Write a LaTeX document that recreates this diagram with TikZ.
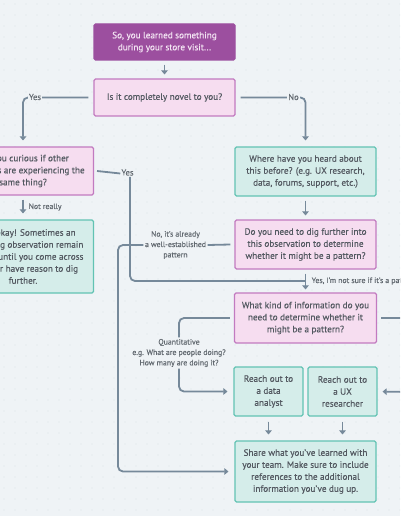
\documentclass[tikz,border=0pt]{standalone}
\usepackage{fontspec}
\setmainfont{PT Sans}[FakeBold=0.3,AutoFakeBold=0.3]
\usetikzlibrary{arrows.meta}
\definecolor{bg}{HTML}{EFF3F6}
\definecolor{dotc}{HTML}{DCE3E9}
\definecolor{purp}{HTML}{9C4F9F}
\definecolor{purptext}{HTML}{F4E6F4}
\definecolor{pinkfill}{HTML}{F6DDF0}
\definecolor{pinkdraw}{HTML}{C27AC0}
\definecolor{tealfill}{HTML}{D5EDEA}
\definecolor{tealdraw}{HTML}{62C3B3}
\definecolor{txt}{HTML}{535961}
\definecolor{lbl}{HTML}{626970}
\definecolor{conn}{HTML}{76899A}
\tikzset{
  boxbase/.style={rounded corners=1.5pt, line width=1.1pt, align=center, inner sep=0pt,
    font=\fontsize{9.2}{12}\selectfont, text=txt},
  startbox/.style={boxbase, fill=purp, draw=purp, text=purptext},
  qbox/.style={boxbase, fill=pinkfill, draw=pinkdraw},
  abox/.style={boxbase, fill=tealfill, draw=tealdraw},
  lab/.style={font=\fontsize{7.8}{10.4}\selectfont, text=lbl, align=center, inner sep=1.5pt, fill=bg},
  toplab/.style={font=\fontsize{8.6}{10}\selectfont, text=lbl, inner sep=1pt, fill=bg},
  conline/.style={draw=conn, line width=1.8pt, rounded corners=5pt},
  conarr/.style={conline, -{Triangle[length=4pt,width=6.5pt]}},
}
\begin{document}
\begin{tikzpicture}[x=1pt,y=-1pt]
\useasboundingbox (0,0) rectangle (400,516);
\clip (0,0) rectangle (400,516);
\fill[bg] (0,0) rectangle (400,516);
\foreach \i in {0,...,36} {\foreach \j in {0,...,47} {\fill[dotc] (4+\i*11,4+\j*11) circle (0.55pt);}}

% nodes
\node[startbox, minimum width=141pt, minimum height=36pt] (start) at (164.5,42) {So, you learned something\\during your store visit...};
\node[qbox, minimum width=141pt, minimum height=37pt] (novel) at (164.5,97.5) {Is it completely novel to you?};
\node[qbox, minimum width=141pt, minimum height=48pt] (curious) at (23,171) {Are you curious if other\\customers are experiencing the\\same thing?};
\node[abox, minimum width=141pt, minimum height=73pt] (okay) at (23,256.5) {That's okay! Sometimes an\\interesting observation remain\\dormant until you come across\\others or have reason to dig\\further.};
\node[abox, minimum width=141pt, minimum height=49pt] (where) at (305.5,171.5) {Where have you heard about\\this before? (e.g. UX research,\\data, forums, support, etc.)};
\node[qbox, minimum width=141pt, minimum height=49pt] (dig) at (305.5,244.5) {Do you need to dig further into\\this observation to determine\\whether it might be a pattern?};
\node[qbox, minimum width=142pt, minimum height=50pt] (kind) at (305.5,318) {What kind of information do you\\need to determine whether it\\might be a pattern?};
\node[abox, minimum width=69pt, minimum height=49pt] (data) at (268.5,391.5) {Reach out to\\a data\\analyst};
\node[abox, minimum width=69pt, minimum height=49pt] (ux) at (342.5,391.5) {Reach out to\\a UX\\researcher};
\node[abox, minimum width=141pt, minimum height=61pt] (share) at (305.5,471.5) {Share what you've learned with\\your team. Make sure to include\\references to the additional\\information you've dug up.};

% labels
\node[toplab] (yes1) at (35,97) {Yes};
\node[toplab] (no1) at (293.5,97) {No};
\node[toplab, fill=none] (yes2) at (127.5,172.5) {Yes};
\node[lab, anchor=west, fill=none] (notreally) at (27,207) {Not really};
\node[lab] (nolbl) at (175.5,245) {No, it's already\\a well-established\\pattern};
\node[lab, anchor=west] (yeslbl) at (310,281) {Yes, I'm not sure if it's a pattern};
\node[lab] (qlbl) at (179,353) {Quantitative\\e.g. What are people doing?\\How many are doing it?};

\coordinate (j) at (305.5,281);
\coordinate (k) at (118,471.5);
\coordinate (offA) at (410,318);
\coordinate (offB) at (410,392);

% connectors
\draw[conarr, shorten <=4pt, shorten >=4pt] (start.south) -- (novel.north);
\draw[conarr, shorten >=6pt] ([xshift=-5pt]novel.west) -| (curious.north);
\path (yes1) node[toplab] {Yes};
\draw[conarr, shorten >=6pt] ([xshift=5pt]novel.east) -| (where.north);
\path (no1) node[toplab] {No};
\draw[conarr, shorten <=4pt, shorten >=6pt] (curious.south) -- (okay.north);
\draw[conline] ([xshift=3pt]curious.east) -- ([yshift=-1pt]yes2.west);
\draw[conline] ([xshift=2.5pt]yes2.south) |- (j);
\draw[conarr, shorten <=4pt, shorten >=4pt] (where.south) -- (dig.north);
\draw[conarr, shorten <=4pt, shorten >=3pt] (dig.south) -- (kind.north);
\draw[conline] ([xshift=-4pt]dig.west) -- (nolbl.east);
\draw[conarr, shorten >=6pt] (nolbl.west) -| (k) -- (share.west);
\draw[conline] ([xshift=-4pt]kind.west) -| (qlbl.north);
\draw[conarr, shorten >=6pt] (qlbl.south) |- (data.west);
\draw[conline] ([xshift=4pt]kind.east) -- (offA);
\draw[conarr, shorten >=5pt] (offB) -- (ux.east);
\draw[conarr, shorten <=5pt, shorten >=6pt] (data.south) -- (data.south |- share.north);
\draw[conarr, shorten <=5pt, shorten >=6pt] (ux.south) -- (ux.south |- share.north);
\end{tikzpicture}
\end{document}
